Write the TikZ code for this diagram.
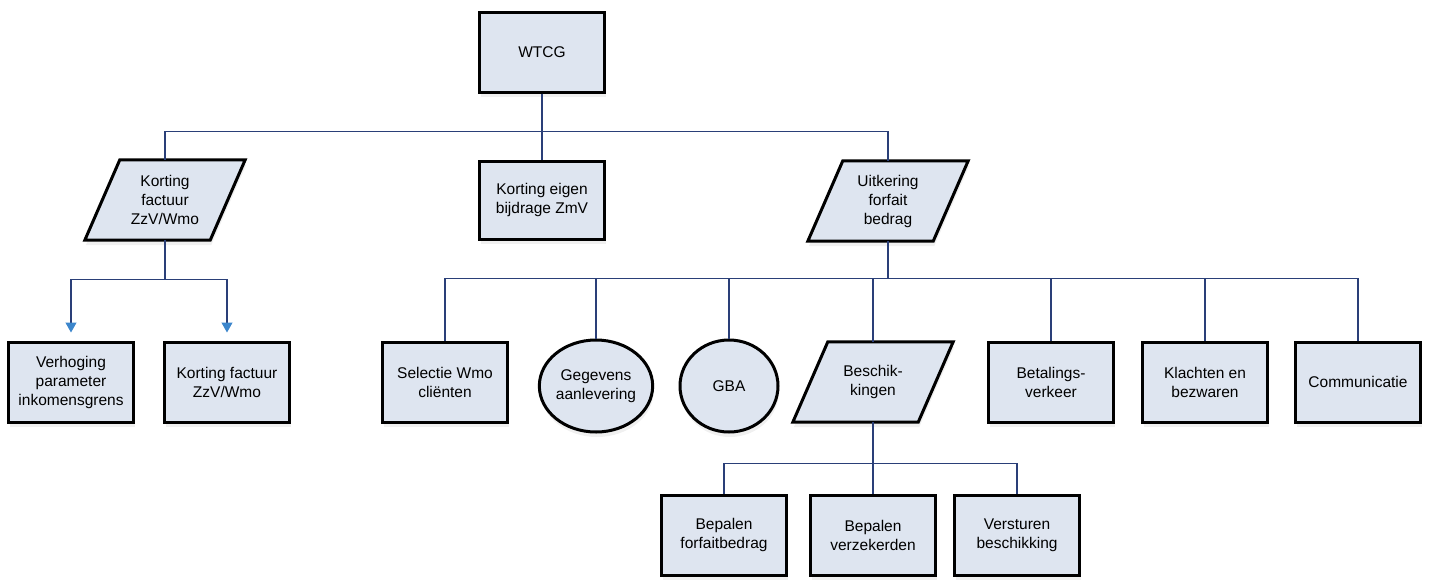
\documentclass[tikz,border=0pt]{standalone}
\usepackage{fontspec}
\setmainfont{Liberation Sans}
\usetikzlibrary{shapes.geometric,arrows.meta,backgrounds,shadows}
\definecolor{boxfill}{HTML}{DEE5F0}
\definecolor{linkblue}{HTML}{2A3F78}
\definecolor{arrowblue}{HTML}{3C86CC}
\tikzset{
  base/.style={font=\fontsize{15.5}{19}\selectfont, align=center, text=black, inner sep=0pt},
  shad/.style={drop shadow={opacity=0.12, shadow xshift=1pt, shadow yshift=-5pt, fill=gray}},
  box/.style={base, draw=black, line width=3pt, fill=boxfill, minimum width=125pt, minimum height=80pt, shad},
  roundbox/.style={base, ellipse, draw=black, line width=3pt, fill=boxfill, minimum width=98pt, minimum height=92pt, shad},
  paranode/.style={base, minimum width=125pt, minimum height=80pt},
  parashape/.style={draw=black, line width=3pt, fill=boxfill, line join=miter, shad},
  conn/.style={draw=linkblue, line width=1.2pt},
  arr/.style={conn, -{Triangle[width=11pt,length=10pt,color=arrowblue,fill=arrowblue]}, shorten >=8pt}
}
\begin{document}
\begin{tikzpicture}[x=1pt,y=-1pt]
\useasboundingbox (0,0) rectangle (1429,579);
% top level
\node[box] (W) at (542,52) {WTCG};
\node[paranode] (K1) at (165,200) {Korting\\factuur\\ZzV/Wmo};
\node[box, minimum height=78pt] (KE) at (542,200) {Korting eigen\\bijdrage ZmV};
\node[paranode] (U) at (888,201) {Uitkering\\forfait\\bedrag};
% left children
\node[box] (V) at (71,382) {Verhoging\\parameter\\inkomensgrens};
\node[box] (KF) at (227,382) {Korting factuur\\ZzV/Wmo};
% right children
\node[box] (S) at (445,382) {Selectie Wmo\\cli\"enten};
\node[roundbox] (G) at (596,386) {Gegevens\\aanlevering};
\node[roundbox] (GB) at (729,386) {GBA};
\node[paranode] (B) at (873,382) {Beschik-\\kingen};
\node[box] (BT) at (1051,382) {Betalings-\\verkeer};
\node[box] (KL) at (1205,382) {Klachten en\\bezwaren};
\node[box] (CM) at (1358,382) {Communicatie};
% bottom children
\node[box] (BF) at (724,535) {Bepalen\\forfaitbedrag};
\node[box] (BV) at (873,535) {Bepalen\\verzekerden};
\node[box] (VB) at (1017,535) {Versturen\\beschikking};
% parallelogram outlines
\begin{pgfonlayer}{background}
\foreach \n in {K1,U,B}
  \draw[parashape] ([xshift=17.5pt]\n.north west) -- ([xshift=17.5pt]\n.north east)
     -- ([xshift=-17.5pt]\n.south east) -- ([xshift=-17.5pt]\n.south west) -- cycle;
\end{pgfonlayer}
% connectors
\draw[conn] (W.south) -- (KE.north);
\draw[conn] (W.south) -- ++(0,38) -| (K1.north);
\draw[conn] (W.south) -- ++(0,38) -| (U.north);
\draw[arr] (K1.south) -- ++(0,39) -| (V.north);
\draw[arr] (K1.south) -- ++(0,39) -| (KF.north);
\foreach \c in {S,G,GB,B,BT,KL,CM}
  \draw[conn] (U.south) -- ++(0,37) -| (\c.north);
\foreach \c in {BF,BV,VB}
  \draw[conn] (B.south) -- ++(0,41) -| (\c.north);
\end{tikzpicture}
\end{document}
